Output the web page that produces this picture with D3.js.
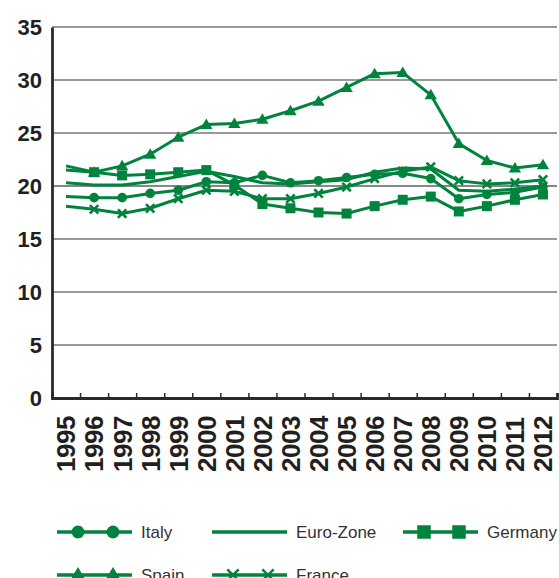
<!DOCTYPE html>
<html>
<head>
<meta charset="utf-8">
<script src="https://cdn.jsdelivr.net/npm/d3@7"></script>
<style>
  body { margin: 0; background: #fff; }
  .ylab text { font-family: "Liberation Sans", Arial, sans-serif; font-weight: bold; font-size: 22px; fill: #231f20; }
  .xlab text { font-family: "Liberation Sans", Arial, sans-serif; font-weight: bold; font-size: 26px; fill: #231f20; }
  .legend text { font-family: "Liberation Sans", Arial, sans-serif; font-size: 17px; fill: #333; }
</style>
</head>
<body>
<div id="chart"></div>
<script>
var svgWidth = 559;
var svgHeight = 578;

// data
var years = d3.range(1995, 2013);
var italy   = [19.0, 18.9, 18.9, 19.3, 19.6, 20.4, 20.3, 21.0, 20.3, 20.5, 20.8, 21.1, 21.2, 20.7, 18.8, 19.2, 19.4, 19.9];
var euro    = [20.3, 20.1, 20.1, 20.4, 20.9, 21.4, 20.9, 20.3, 20.2, 20.4, 20.6, 21.3, 21.7, 21.6, 19.6, 19.5, 19.7, 20.0];
var germany = [21.5, 21.3, 21.0, 21.1, 21.3, 21.5, 20.1, 18.3, 17.9, 17.5, 17.4, 18.1, 18.7, 19.0, 17.6, 18.1, 18.7, 19.2];
var spain   = [21.9, 21.3, 21.9, 23.0, 24.6, 25.8, 25.9, 26.3, 27.1, 28.0, 29.3, 30.6, 30.7, 28.6, 24.0, 22.4, 21.7, 22.0];
var france  = [18.1, 17.8, 17.4, 17.9, 18.8, 19.6, 19.5, 18.8, 18.8, 19.3, 19.9, 20.7, 21.4, 21.8, 20.5, 20.2, 20.3, 20.6];
var yTicks = [0, 5, 10, 15, 20, 25, 30, 35];

var green = "#00843d";

var series = [
    {name: "Italy", values: italy, marker: "circle"},
    {name: "Euro-Zone", values: euro, marker: "none"},
    {name: "Germany", values: germany, marker: "square"},
    {name: "Spain", values: spain, marker: "triangle"},
    {name: "France", values: france, marker: "cross"}
];

var svg = d3.select("#chart")
    .append("svg")
    .attr("width", svgWidth)
    .attr("height", svgHeight);

// plot box (window.top is taken, so keep these names distinct)
var plotLeft = 52, plotRight = 557, plotTop = 27, plotBottom = 398;

var x = d3.scaleLinear().domain([1994.5, 2012.5]).range([plotLeft, plotRight]);
var y = d3.scaleLinear().domain([0, 35]).range([plotBottom, plotTop]);

// grid lines
svg.append("g")
    .selectAll("line")
    .data(yTicks.filter(d => d > 0))
    .enter()
    .append("line")
    .attr("x1", plotLeft)
    .attr("x2", plotRight)
    .attr("y1", d => y(d))
    .attr("y2", d => y(d))
    .attr("stroke", d => d === 20 ? "#111" : "#777")
    .attr("stroke-width", d => d === 20 ? 1.2 : 1.6);

// y axis
var yAxis = svg.append("g")
    .attr("class", "ylab")
    .attr("transform", `translate(${plotLeft}, 0)`)
    .call(d3.axisLeft(y).tickValues(yTicks).tickSize(0).tickPadding(10));
yAxis.select(".domain").attr("stroke", "#2a2a2a").attr("stroke-width", 2.8);

// x axis ticks between years
var xAxis = svg.append("g")
    .attr("transform", `translate(0, ${plotBottom})`)
    .call(d3.axisBottom(x).tickValues(d3.range(1995.5, 2013, 1)).tickSize(-5).tickFormat(""));
xAxis.select(".domain").attr("stroke", "#2a2a2a").attr("stroke-width", 2.8);
xAxis.selectAll(".tick line").attr("stroke", "#2a2a2a").attr("stroke-width", 1.5);

// x labels, rotated, anchored at the bottom
svg.append("g")
    .attr("class", "xlab")
    .selectAll("text")
    .data(years)
    .enter()
    .append("text")
    .attr("transform", d => `translate(${x(d)}, 472) rotate(-90)`)
    .attr("dy", "0.36em")
    .attr("text-anchor", "start")
    .attr("letter-spacing", "-0.5")
    .text(d => d);

function drawMarker(g, type, cx, cy, s) {
    if (type === "circle") {
        g.append("circle").attr("cx", cx).attr("cy", cy).attr("r", 4.8 * s).attr("fill", green);
    } else if (type === "square") {
        g.append("rect").attr("x", cx - 5 * s).attr("y", cy - 5 * s)
            .attr("width", 10 * s).attr("height", 10 * s).attr("fill", green);
    } else if (type === "triangle") {
        var h = 10 * s, w = 6.2 * s;
        g.append("path")
            .attr("d", `M${cx},${cy - h * 0.6}L${cx + w},${cy + h * 0.45}L${cx - w},${cy + h * 0.45}Z`)
            .attr("fill", green);
    } else if (type === "cross") {
        var r = 4.2 * s;
        g.append("path")
            .attr("d", `M${cx - r},${cy - r}L${cx + r},${cy + r}M${cx - r},${cy + r}L${cx + r},${cy - r}`)
            .attr("stroke", green).attr("stroke-width", 2.6).attr("fill", "none");
    }
}

var line = d3.line()
    .x((d, i) => x(years[i]))
    .y(d => y(d));

series.forEach(function(s) {
    var g = svg.append("g");
    g.append("path")
        .datum(s.values)
        .attr("d", line)
        .attr("fill", "none")
        .attr("stroke", green)
        .attr("stroke-width", 3)
        .attr("stroke-linejoin", "round");
    // no marker on the first year
    s.values.forEach(function(v, i) {
        if (i === 0) return;
        drawMarker(g, s.marker, x(years[i]), y(v), 1);
    });
});

// legend
var legendPos = [
    {x: 57, y: 532}, {x: 212, y: 532}, {x: 403, y: 532},
    {x: 57, y: 575}, {x: 212, y: 575}
];
var legend = svg.append("g").attr("class", "legend");
series.forEach(function(s, i) {
    var p = legendPos[i];
    var g = legend.append("g");
    g.append("line")
        .attr("x1", p.x).attr("x2", p.x + 75)
        .attr("y1", p.y).attr("y2", p.y)
        .attr("stroke", green).attr("stroke-width", 3.5);
    if (s.marker !== "none") {
        drawMarker(g, s.marker, p.x + 21, p.y, 1.35);
        drawMarker(g, s.marker, p.x + 56, p.y, 1.35);
    }
    g.append("text")
        .attr("x", p.x + 84)
        .attr("y", p.y + 6)
        .text(s.name);
});
</script>
</body>
</html>
